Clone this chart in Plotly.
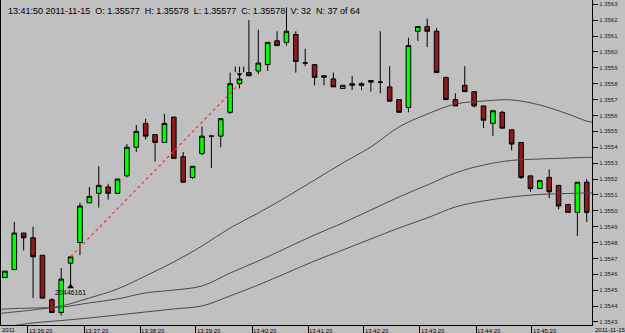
import plotly.graph_objects as go

# ---- candle data (10-second bars, index 0..62) ----
bar_index = list(range(63))
open_ = [1.35458, 1.35463, 1.35486, 1.35483, 1.35472, 1.35444, 1.35436, 1.35467, 1.35480, 1.35505,
         1.35511, 1.35515, 1.35511, 1.35522, 1.35540, 1.35555, 1.35548, 1.35543, 1.35559, 1.35534,
         1.35521, 1.35536, 1.35547, 1.35547, 1.35562, 1.35580, 1.35587, 1.35588, 1.35592, 1.35607,
         1.35606, 1.35611, 1.35593, 1.35592, 1.35584, 1.35583, 1.35577, 1.35580, 1.35580, 1.35582,
         1.35581, 1.35578, 1.35570, 1.35565, 1.35613, 1.35616, 1.35613, 1.35584, 1.35570, 1.35579,
         1.35575, 1.35566, 1.35555, 1.35562, 1.35551, 1.35543, 1.35522, 1.35514, 1.35521, 1.35516,
         1.35504, 1.35499, 1.35518]
high = [1.35462, 1.35493, 1.35486, 1.35490, 1.35472, 1.35445, 1.35464, 1.35471, 1.35505, 1.35515,
        1.35528, 1.35517, 1.35520, 1.35542, 1.35554, 1.35558, 1.35548, 1.35561, 1.35559, 1.35537,
        1.35528, 1.35553, 1.35547, 1.35558, 1.35587, 1.35587, 1.35620, 1.35614, 1.35606, 1.35613,
        1.35628, 1.35613, 1.35602, 1.35592, 1.35585, 1.35587, 1.35579, 1.35585, 1.35581, 1.35582,
        1.35613, 1.35591, 1.35570, 1.35609, 1.35616, 1.35621, 1.35615, 1.35584, 1.35574, 1.35591,
        1.35575, 1.35566, 1.35563, 1.35563, 1.35551, 1.35543, 1.35522, 1.35519, 1.35526, 1.35516,
        1.35504, 1.35518, 1.35520]
low = [1.35458, 1.35463, 1.35475, 1.35445, 1.35445, 1.35436, 1.35434, 1.35452, 1.35472, 1.35505,
       1.35502, 1.35507, 1.35511, 1.35521, 1.35537, 1.35545, 1.35531, 1.35543, 1.35533, 1.35518,
       1.35520, 1.35535, 1.35527, 1.35540, 1.35561, 1.35577, 1.35585, 1.35586, 1.35588, 1.35604,
       1.35604, 1.35587, 1.35591, 1.35579, 1.35579, 1.35578, 1.35577, 1.35576, 1.35576, 1.35575,
       1.35574, 1.35569, 1.35562, 1.35562, 1.35607, 1.35603, 1.35587, 1.35570, 1.35566, 1.35575,
       1.35565, 1.35552, 1.35547, 1.35552, 1.35538, 1.35520, 1.35512, 1.35514, 1.35508, 1.35501,
       1.35499, 1.35484, 1.35493]
close = [1.35462, 1.35486, 1.35483, 1.35471, 1.35445, 1.35436, 1.35457, 1.35471, 1.35503, 1.35509,
         1.35516, 1.35511, 1.35520, 1.35540, 1.35550, 1.35547, 1.35543, 1.35555, 1.35533, 1.35518,
         1.35528, 1.35547, 1.35547, 1.35558, 1.35580, 1.35583, 1.35585, 1.35593, 1.35606, 1.35604,
         1.35613, 1.35594, 1.35593, 1.35584, 1.35585, 1.35578, 1.35579, 1.35579, 1.35579, 1.35581,
         1.35581, 1.35569, 1.35562, 1.35604, 1.35616, 1.35613, 1.35587, 1.35570, 1.35566, 1.35575,
         1.35566, 1.35557, 1.35563, 1.35552, 1.35542, 1.35521, 1.35514, 1.35519, 1.35512, 1.35503,
         1.35499, 1.35518, 1.35499]

# ---- moving averages (read at every 3rd bar) ----
ma_index = [-1, 0, 3, 6, 9, 12, 15, 18, 21, 24, 27, 30, 33, 36, 39, 42, 45, 48, 51, 54, 57, 60, 62, 63]
ma_fast = [1.354350, 1.354357, 1.354376, 1.354401, 1.354451, 1.354508, 1.354590, 1.354678, 1.354778,
           1.354892, 1.354986, 1.355087, 1.355194, 1.355301, 1.355402, 1.355528, 1.355609, 1.355672,
           1.355691, 1.355698, 1.355666, 1.355609, 1.355565, 1.355553]
ma_mid = [1.354376, 1.354382, 1.354388, 1.354394, 1.354420, 1.354445, 1.354483, 1.354501, 1.354527,
          1.354608, 1.354684, 1.354766, 1.354848, 1.354923, 1.355005, 1.355087, 1.355162, 1.355238,
          1.355288, 1.355317, 1.355326, 1.355332, 1.355336, 1.355336]
ma_slow = [1.354262, 1.354269, 1.354294, 1.354309, 1.354325, 1.354344, 1.354363, 1.354382, 1.354401,
           1.354464, 1.354533, 1.354608, 1.354684, 1.354753, 1.354823, 1.354892, 1.354955, 1.355024,
           1.355062, 1.355087, 1.355103, 1.355109, 1.355112, 1.355112]

# ---- drawing tool: dotted trend line ----
trend_x = [7, 25]
trend_y = [1.35471, 1.35580]

# ---- axis ticks ----
price_ticks = [round(1.3543 + k * 0.0001, 4) for k in range(21)]
time_tick_pos = [2.46, 8.43, 14.40, 20.36, 26.33, 32.30, 38.26, 44.23, 50.20, 56.16]
time_tick_labels = ["13:36:20", "13:37:20", "13:38:20", "13:39:20", "13:40:20",
                    "13:41:20", "13:42:20", "13:43:20", "13:44:20", "13:45:20"]

header = ("13:41:50 2011-11-15\u00a0\u00a0O: 1.35577\u00a0\u00a0H: 1.35578\u00a0\u00a0L: 1.35577"
          "\u00a0\u00a0C: 1.35578\u00a0\u00a0V: 32\u00a0\u00a0N: 37 of 64")

BG = "#c0c0c0"
MA_COLOR = "#4a4a4a"

fig = go.Figure()
for ys in (ma_fast, ma_mid, ma_slow):
    fig.add_trace(go.Scatter(x=ma_index, y=ys, mode="lines", line=dict(color=MA_COLOR, width=1, shape="spline"),
                             hoverinfo="skip", showlegend=False))

fig.add_trace(go.Scatter(x=trend_x, y=trend_y, mode="lines",
                         line=dict(color="#ff3030", width=1.2, dash="dot"), showlegend=False))

fig.add_trace(go.Candlestick(
    x=bar_index, open=open_, high=high, low=low, close=close,
    increasing=dict(fillcolor="#00ff00", line=dict(color="#000000", width=1)),
    decreasing=dict(fillcolor="#8c1c1c", line=dict(color="#000000", width=1)),
    whiskerwidth=0, showlegend=False))

# markers: buy arrow under bar 7, sell marks above bar 25
fig.add_trace(go.Scatter(x=[7], y=[1.354522], mode="markers",
                         marker=dict(symbol="triangle-up", size=6, color="black"), showlegend=False))
fig.add_trace(go.Scatter(x=[25], y=[1.355858], mode="markers",
                         marker=dict(symbol="triangle-down", size=5, color="black"), showlegend=False))
fig.add_trace(go.Scatter(x=[24.55, 25, 25.45], y=[1.355890] * 3, mode="markers",
                         marker=dict(symbol="line-ns", size=4, line=dict(color="black", width=1)),
                         showlegend=False))

fig.add_annotation(x=7, y=1.354483, xref="x", yref="y", text="20446161", showarrow=False,
                   font=dict(family="Liberation Sans, Arial", size=7, color="black"))

fig.add_annotation(x=0, y=1, xref="paper", yref="paper", xanchor="left", yanchor="top",
                   xshift=5, yshift=-4, text=header, showarrow=False,
                   font=dict(family="Liberation Sans Narrow, Arial Narrow, Liberation Sans, Arial",
                             size=9, color="black"))
fig.add_annotation(x=0, y=0, xref="paper", yref="paper", xanchor="left", yanchor="top",
                   xshift=-1, yshift=0, text="2011", showarrow=False,
                   font=dict(family="Liberation Sans, Arial", size=6, color="black"))
fig.add_annotation(x=1, y=0, xref="paper", yref="paper", xanchor="left", yanchor="top",
                   xshift=1, yshift=0, text="2011-11-15", showarrow=False,
                   font=dict(family="Liberation Sans, Arial", size=6, color="black"))

fig.update_layout(
    width=625, height=333,
    margin=dict(l=1, r=33, t=0, b=8),
    paper_bgcolor=BG, plot_bgcolor=BG,
    showlegend=False,
    xaxis=dict(range=[-0.416, 62.56], showgrid=False, zeroline=False,
               rangeslider=dict(visible=False),
               showline=True, linecolor="black", linewidth=1,
               tickmode="array", tickvals=time_tick_pos, ticktext=time_tick_labels,
               ticks="outside", ticklen=8, tickcolor="black", tickwidth=1,
               ticklabelposition="outside right",
               tickfont=dict(family="Liberation Sans, Arial", size=6, color="black")),
    yaxis=dict(side="right", range=[1.354281, 1.356327], showgrid=False, zeroline=False,
               showline=True, mirror=True, linecolor="black", linewidth=1,
               tickmode="array", tickvals=price_ticks, tickformat=".4f",
               ticks="outside", ticklen=5, tickcolor="black", tickwidth=1,
               tickfont=dict(family="Liberation Sans, Arial", size=6, color="#202020")),
)

fig.write_html("out.html")
